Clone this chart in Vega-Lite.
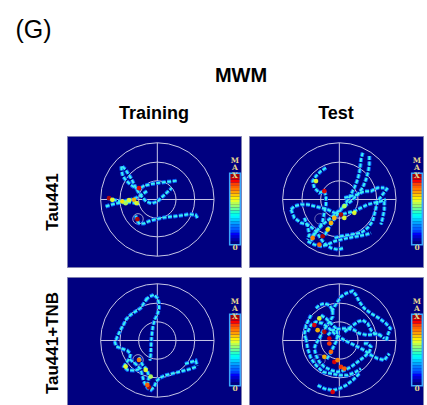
{
"$schema":"https://vega.github.io/schema/vega-lite/v6.json",
"padding":{"left":15,"top":17,"right":0,"bottom":0},
"background":"white",
"config":{"font":"Liberation Sans","view":{"fill":"#000080","stroke":"#8080b0","strokeWidth":1},"title":{"color":"black"}},
"title":{"text":"(G)","anchor":"start","fontSize":25,"fontWeight":"normal","dx":-27,"offset":23},
"datasets":{
"cross":[{"x":-170,"y":0,"x2":170,"y2":0},{"x":0,"y":-170,"x2":0,"y2":170}],
"rings":[{"r":170},{"r":112},{"r":56}],
"platform":[{"x":-58,"y":-58}],
"bar":[{"lo":0,"hi":0.04},{"lo":0.04,"hi":0.08},{"lo":0.08,"hi":0.12},{"lo":0.12,"hi":0.16},{"lo":0.16,"hi":0.2},{"lo":0.2,"hi":0.24},{"lo":0.24,"hi":0.28},{"lo":0.28,"hi":0.32},{"lo":0.32,"hi":0.36},{"lo":0.36,"hi":0.4},{"lo":0.4,"hi":0.44},{"lo":0.44,"hi":0.48},{"lo":0.48,"hi":0.52},{"lo":0.52,"hi":0.56},{"lo":0.56,"hi":0.6},{"lo":0.6,"hi":0.64},{"lo":0.64,"hi":0.68},{"lo":0.68,"hi":0.72},{"lo":0.72,"hi":0.76},{"lo":0.76,"hi":0.8},{"lo":0.8,"hi":0.84},{"lo":0.84,"hi":0.88},{"lo":0.88,"hi":0.92},{"lo":0.92,"hi":0.96},{"lo":0.96,"hi":1}],
"tracks":[
{"p":1,"s":"1a","x":-108,"y":99},{"p":1,"s":"1a","x":-107,"y":84},{"p":1,"s":"1a","x":-103,"y":69},{"p":1,"s":"1a","x":-93,"y":56},{"p":1,"s":"1a","x":-80,"y":44},{"p":1,"s":"1a","x":-65,"y":34},{"p":1,"s":"1a","x":-53,"y":32},{"p":1,"s":"1a","x":-40,"y":41},{"p":1,"s":"1a","x":-20,"y":46},{"p":1,"s":"1a","x":5,"y":50},{"p":1,"s":"1a","x":30,"y":53},{"p":1,"s":"1a","x":50,"y":55},{"p":1,"s":"1a","x":61,"y":57},
{"p":1,"s":"1b","x":-105,"y":99},{"p":1,"s":"1b","x":-95,"y":89},{"p":1,"s":"1b","x":-87,"y":76},{"p":1,"s":"1b","x":-79,"y":64},{"p":1,"s":"1b","x":-73,"y":52},{"p":1,"s":"1b","x":-65,"y":36},{"p":1,"s":"1b","x":-55,"y":19},{"p":1,"s":"1b","x":-45,"y":6},{"p":1,"s":"1b","x":-33,"y":-6},{"p":1,"s":"1b","x":-17,"y":-12},{"p":1,"s":"1b","x":0,"y":-6},{"p":1,"s":"1b","x":15,"y":8},{"p":1,"s":"1b","x":30,"y":22},{"p":1,"s":"1b","x":43,"y":34},
{"p":1,"s":"1c","x":-150,"y":4},{"p":1,"s":"1c","x":-130,"y":-1},{"p":1,"s":"1c","x":-110,"y":-6},{"p":1,"s":"1c","x":-95,"y":-4},{"p":1,"s":"1c","x":-80,"y":-1},{"p":1,"s":"1c","x":-65,"y":4},{"p":1,"s":"1c","x":-55,"y":9},{"p":1,"s":"1c","x":-40,"y":19},{"p":1,"s":"1c","x":-30,"y":26},
{"p":1,"s":"1d","x":-155,"y":-21},{"p":1,"s":"1d","x":-140,"y":-16},{"p":1,"s":"1d","x":-120,"y":-11},{"p":1,"s":"1d","x":-100,"y":-8},{"p":1,"s":"1d","x":-80,"y":-8},{"p":1,"s":"1d","x":-65,"y":-11},{"p":1,"s":"1d","x":-55,"y":-14},
{"p":1,"s":"1e","x":-65,"y":-48},{"p":1,"s":"1e","x":-62,"y":-61},{"p":1,"s":"1e","x":-55,"y":-71},{"p":1,"s":"1e","x":-40,"y":-72},{"p":1,"s":"1e","x":-25,"y":-65},{"p":1,"s":"1e","x":-5,"y":-59},{"p":1,"s":"1e","x":20,"y":-54},{"p":1,"s":"1e","x":45,"y":-51},{"p":1,"s":"1e","x":70,"y":-48},{"p":1,"s":"1e","x":95,"y":-44},{"p":1,"s":"1e","x":115,"y":-46},{"p":1,"s":"1e","x":121,"y":-56},
{"p":2,"s":"2a","x":70,"y":140},{"p":2,"s":"2a","x":65,"y":120},{"p":2,"s":"2a","x":63,"y":100},{"p":2,"s":"2a","x":60,"y":80},{"p":2,"s":"2a","x":55,"y":60},{"p":2,"s":"2a","x":45,"y":35},{"p":2,"s":"2a","x":35,"y":15},{"p":2,"s":"2a","x":20,"y":-10},{"p":2,"s":"2a","x":5,"y":-30},{"p":2,"s":"2a","x":-10,"y":-50},{"p":2,"s":"2a","x":-23,"y":-70},{"p":2,"s":"2a","x":-35,"y":-90},{"p":2,"s":"2a","x":-45,"y":-110},
{"p":2,"s":"2b","x":90,"y":130},{"p":2,"s":"2b","x":90,"y":105},{"p":2,"s":"2b","x":87,"y":85},{"p":2,"s":"2b","x":80,"y":60},{"p":2,"s":"2b","x":70,"y":35},{"p":2,"s":"2b","x":55,"y":15},{"p":2,"s":"2b","x":35,"y":-5},{"p":2,"s":"2b","x":15,"y":-20},{"p":2,"s":"2b","x":-5,"y":-37},{"p":2,"s":"2b","x":-25,"y":-55},{"p":2,"s":"2b","x":-50,"y":-75},{"p":2,"s":"2b","x":-70,"y":-95},{"p":2,"s":"2b","x":-85,"y":-115},
{"p":2,"s":"2c","x":-40,"y":95},{"p":2,"s":"2c","x":-55,"y":85},{"p":2,"s":"2c","x":-70,"y":70},{"p":2,"s":"2c","x":-80,"y":55},{"p":2,"s":"2c","x":-75,"y":35},{"p":2,"s":"2c","x":-60,"y":20},{"p":2,"s":"2c","x":-45,"y":25},{"p":2,"s":"2c","x":-40,"y":10},{"p":2,"s":"2c","x":-40,"y":-15},{"p":2,"s":"2c","x":-45,"y":-40},{"p":2,"s":"2c","x":-50,"y":-65},{"p":2,"s":"2c","x":-60,"y":-85},{"p":2,"s":"2c","x":-75,"y":-105},{"p":2,"s":"2c","x":-85,"y":-125},
{"p":2,"s":"2d","x":-145,"y":-30},{"p":2,"s":"2d","x":-135,"y":-20},{"p":2,"s":"2d","x":-115,"y":-15},{"p":2,"s":"2d","x":-95,"y":-15},{"p":2,"s":"2d","x":-75,"y":-20},{"p":2,"s":"2d","x":-55,"y":-25},{"p":2,"s":"2d","x":-35,"y":-30},{"p":2,"s":"2d","x":-15,"y":-40},{"p":2,"s":"2d","x":5,"y":-45},{"p":2,"s":"2d","x":25,"y":-40},{"p":2,"s":"2d","x":45,"y":-35},{"p":2,"s":"2d","x":65,"y":-25},{"p":2,"s":"2d","x":85,"y":-15},{"p":2,"s":"2d","x":105,"y":-10},{"p":2,"s":"2d","x":125,"y":-5},{"p":2,"s":"2d","x":140,"y":0},
{"p":2,"s":"2e","x":-145,"y":-30},{"p":2,"s":"2e","x":-135,"y":-55},{"p":2,"s":"2e","x":-115,"y":-70},{"p":2,"s":"2e","x":-95,"y":-75},{"p":2,"s":"2e","x":-75,"y":-90},{"p":2,"s":"2e","x":-60,"y":-110},{"p":2,"s":"2e","x":-50,"y":-125},{"p":2,"s":"2e","x":-40,"y":-135},{"p":2,"s":"2e","x":-25,"y":-145},{"p":2,"s":"2e","x":-5,"y":-150},{"p":2,"s":"2e","x":15,"y":-145},
{"p":2,"s":"2f","x":145,"y":35},{"p":2,"s":"2f","x":130,"y":15},{"p":2,"s":"2f","x":115,"y":-5},{"p":2,"s":"2f","x":110,"y":-25},{"p":2,"s":"2f","x":105,"y":-45},{"p":2,"s":"2f","x":100,"y":-65},{"p":2,"s":"2f","x":85,"y":-85},{"p":2,"s":"2f","x":65,"y":-100},{"p":2,"s":"2f","x":35,"y":-105},{"p":2,"s":"2f","x":5,"y":-110},{"p":2,"s":"2f","x":-15,"y":-115},
{"p":2,"s":"2g","x":135,"y":-5},{"p":2,"s":"2g","x":135,"y":-30},{"p":2,"s":"2g","x":130,"y":-55},{"p":2,"s":"2g","x":125,"y":-75},
{"p":2,"s":"2h","x":15,"y":5},{"p":2,"s":"2h","x":35,"y":10},{"p":2,"s":"2h","x":55,"y":15},{"p":2,"s":"2h","x":75,"y":25},{"p":2,"s":"2h","x":95,"y":25},{"p":2,"s":"2h","x":115,"y":35},{"p":2,"s":"2h","x":135,"y":35},
{"p":2,"s":"2i","x":-95,"y":-125},{"p":2,"s":"2i","x":-75,"y":-135},{"p":2,"s":"2i","x":-55,"y":-140},{"p":2,"s":"2i","x":-35,"y":-135},{"p":2,"s":"2i","x":-15,"y":-125},{"p":2,"s":"2i","x":5,"y":-120},{"p":2,"s":"2i","x":25,"y":-115},{"p":2,"s":"2i","x":55,"y":-110},{"p":2,"s":"2i","x":80,"y":-105},{"p":2,"s":"2i","x":95,"y":-100},
{"p":2,"s":"2j","x":-105,"y":-55},{"p":2,"s":"2j","x":-95,"y":-80},{"p":2,"s":"2j","x":-90,"y":-105},{"p":2,"s":"2j","x":-95,"y":-120},
{"p":3,"s":"3a","x":-30,"y":127},{"p":3,"s":"3a","x":-40,"y":112},{"p":3,"s":"3a","x":-50,"y":97},{"p":3,"s":"3a","x":-65,"y":87},{"p":3,"s":"3a","x":-80,"y":77},{"p":3,"s":"3a","x":-93,"y":64},{"p":3,"s":"3a","x":-100,"y":50},{"p":3,"s":"3a","x":-110,"y":32},{"p":3,"s":"3a","x":-120,"y":12},{"p":3,"s":"3a","x":-127,"y":-6},{"p":3,"s":"3a","x":-123,"y":-18},{"p":3,"s":"3a","x":-107,"y":-24},{"p":3,"s":"3a","x":-90,"y":-30},{"p":3,"s":"3a","x":-80,"y":-40},{"p":3,"s":"3a","x":-83,"y":-53},{"p":3,"s":"3a","x":-93,"y":-66},{"p":3,"s":"3a","x":-100,"y":-78},{"p":3,"s":"3a","x":-90,"y":-88},{"p":3,"s":"3a","x":-70,"y":-90},{"p":3,"s":"3a","x":-55,"y":-86},
{"p":3,"s":"3b","x":-35,"y":122},{"p":3,"s":"3b","x":-22,"y":132},{"p":3,"s":"3b","x":-10,"y":137},{"p":3,"s":"3b","x":0,"y":127},{"p":3,"s":"3b","x":5,"y":112},{"p":3,"s":"3b","x":5,"y":95},{"p":3,"s":"3b","x":0,"y":77},{"p":3,"s":"3b","x":-7,"y":64},{"p":3,"s":"3b","x":-13,"y":44},{"p":3,"s":"3b","x":-16,"y":22},{"p":3,"s":"3b","x":-18,"y":0},{"p":3,"s":"3b","x":-19,"y":-22},{"p":3,"s":"3b","x":-20,"y":-44},{"p":3,"s":"3b","x":-22,"y":-60},
{"p":3,"s":"3c","x":-83,"y":-56},{"p":3,"s":"3c","x":-65,"y":-70},{"p":3,"s":"3c","x":-50,"y":-86},{"p":3,"s":"3c","x":-45,"y":-106},{"p":3,"s":"3c","x":-39,"y":-126},{"p":3,"s":"3c","x":-29,"y":-142},{"p":3,"s":"3c","x":-19,"y":-148},{"p":3,"s":"3c","x":-9,"y":-138},{"p":3,"s":"3c","x":-3,"y":-122},{"p":3,"s":"3c","x":7,"y":-112},{"p":3,"s":"3c","x":25,"y":-104},{"p":3,"s":"3c","x":45,"y":-99},{"p":3,"s":"3c","x":65,"y":-94},{"p":3,"s":"3c","x":85,"y":-89},{"p":3,"s":"3c","x":103,"y":-84},{"p":3,"s":"3c","x":117,"y":-78},
{"p":3,"s":"3d","x":-55,"y":-50},{"p":3,"s":"3d","x":-45,"y":-72},{"p":3,"s":"3d","x":-31,"y":-88},{"p":3,"s":"3d","x":-25,"y":-108},{"p":3,"s":"3d","x":-29,"y":-128},
{"p":3,"s":"3e","x":83,"y":-70},{"p":3,"s":"3e","x":99,"y":-65},{"p":3,"s":"3e","x":115,"y":-60},{"p":3,"s":"3e","x":120,"y":-76},
{"p":4,"s":"4a","x":-23,"y":86},{"p":4,"s":"4a","x":-15,"y":101},{"p":4,"s":"4a","x":-5,"y":116},{"p":4,"s":"4a","x":5,"y":131},{"p":4,"s":"4a","x":20,"y":141},{"p":4,"s":"4a","x":40,"y":148},{"p":4,"s":"4a","x":50,"y":136},{"p":4,"s":"4a","x":60,"y":116},{"p":4,"s":"4a","x":75,"y":96},{"p":4,"s":"4a","x":95,"y":81},{"p":4,"s":"4a","x":120,"y":66},{"p":4,"s":"4a","x":140,"y":51},{"p":4,"s":"4a","x":153,"y":36},{"p":4,"s":"4a","x":145,"y":16},{"p":4,"s":"4a","x":140,"y":-4},
{"p":4,"s":"4b","x":-70,"y":96},{"p":4,"s":"4b","x":-60,"y":106},{"p":4,"s":"4b","x":-45,"y":111},{"p":4,"s":"4b","x":-30,"y":106},{"p":4,"s":"4b","x":-20,"y":91},{"p":4,"s":"4b","x":-20,"y":71},{"p":4,"s":"4b","x":-30,"y":56},{"p":4,"s":"4b","x":-40,"y":41},{"p":4,"s":"4b","x":-50,"y":26},{"p":4,"s":"4b","x":-60,"y":6},{"p":4,"s":"4b","x":-70,"y":-9},{"p":4,"s":"4b","x":-75,"y":-24},{"p":4,"s":"4b","x":-70,"y":-44},{"p":4,"s":"4b","x":-60,"y":-64},{"p":4,"s":"4b","x":-45,"y":-79},{"p":4,"s":"4b","x":-25,"y":-89},{"p":4,"s":"4b","x":-5,"y":-94},{"p":4,"s":"4b","x":15,"y":-89},{"p":4,"s":"4b","x":35,"y":-79},{"p":4,"s":"4b","x":55,"y":-64},{"p":4,"s":"4b","x":75,"y":-49},{"p":4,"s":"4b","x":90,"y":-34},{"p":4,"s":"4b","x":95,"y":-19},{"p":4,"s":"4b","x":85,"y":-9},{"p":4,"s":"4b","x":70,"y":-9},
{"p":4,"s":"4c","x":-95,"y":26},{"p":4,"s":"4c","x":-85,"y":46},{"p":4,"s":"4c","x":-70,"y":56},{"p":4,"s":"4c","x":-50,"y":51},{"p":4,"s":"4c","x":-30,"y":36},{"p":4,"s":"4c","x":-15,"y":21},{"p":4,"s":"4c","x":0,"y":11},{"p":4,"s":"4c","x":15,"y":1},{"p":4,"s":"4c","x":35,"y":-9},{"p":4,"s":"4c","x":55,"y":-19},{"p":4,"s":"4c","x":75,"y":-29},{"p":4,"s":"4c","x":95,"y":-44},{"p":4,"s":"4c","x":115,"y":-54},{"p":4,"s":"4c","x":135,"y":-59},{"p":4,"s":"4c","x":150,"y":-39},
{"p":4,"s":"4d","x":-100,"y":6},{"p":4,"s":"4d","x":-95,"y":-24},{"p":4,"s":"4d","x":-85,"y":-54},{"p":4,"s":"4d","x":-70,"y":-74},{"p":4,"s":"4d","x":-50,"y":-94},{"p":4,"s":"4d","x":-25,"y":-99},{"p":4,"s":"4d","x":0,"y":-104},{"p":4,"s":"4d","x":25,"y":-104},{"p":4,"s":"4d","x":50,"y":-94},{"p":4,"s":"4d","x":65,"y":-84},
{"p":4,"s":"4e","x":-65,"y":-134},{"p":4,"s":"4e","x":-45,"y":-144},{"p":4,"s":"4e","x":-20,"y":-149},{"p":4,"s":"4e","x":0,"y":-144},{"p":4,"s":"4e","x":20,"y":-134},{"p":4,"s":"4e","x":40,"y":-119},{"p":4,"s":"4e","x":60,"y":-99},
{"p":4,"s":"4f","x":15,"y":26},{"p":4,"s":"4f","x":35,"y":41},{"p":4,"s":"4f","x":55,"y":56},{"p":4,"s":"4f","x":70,"y":61},{"p":4,"s":"4f","x":85,"y":51},{"p":4,"s":"4f","x":95,"y":31},{"p":4,"s":"4f","x":105,"y":21},{"p":4,"s":"4f","x":125,"y":16},
{"p":4,"s":"4g","x":-35,"y":16},{"p":4,"s":"4g","x":-20,"y":31},{"p":4,"s":"4g","x":5,"y":36},{"p":4,"s":"4g","x":25,"y":36},{"p":4,"s":"4g","x":45,"y":31},{"p":4,"s":"4g","x":60,"y":21},{"p":4,"s":"4g","x":85,"y":16},{"p":4,"s":"4g","x":115,"y":21},{"p":4,"s":"4g","x":135,"y":6},
{"p":4,"s":"4h","x":-55,"y":76},{"p":4,"s":"4h","x":-40,"y":66},{"p":4,"s":"4h","x":-25,"y":51},{"p":4,"s":"4h","x":-10,"y":36},{"p":4,"s":"4h","x":-5,"y":16},{"p":4,"s":"4h","x":-10,"y":-4},{"p":4,"s":"4h","x":-20,"y":-24},{"p":4,"s":"4h","x":-30,"y":-44},{"p":4,"s":"4h","x":-40,"y":-59},
{"p":4,"s":"4i","x":-85,"y":76},{"p":4,"s":"4i","x":-100,"y":46},{"p":4,"s":"4i","x":-105,"y":16},{"p":4,"s":"4i","x":-100,"y":6}
],
"hot":[
{"p":1,"x":-145,"y":4,"v":0.95},{"p":1,"x":-55,"y":34,"v":0.9},{"p":1,"x":-60,"y":-59,"v":0.95},{"p":1,"x":-105,"y":-6,"v":0.65},{"p":1,"x":-85,"y":-2,"v":0.6},{"p":1,"x":-70,"y":-1,"v":0.7},{"p":1,"x":-95,"y":-11,"v":0.55},{"p":1,"x":-62,"y":-11,"v":0.6},{"p":1,"x":-135,"y":-1,"v":0.6},
{"p":2,"x":5,"y":-45,"v":0.95},{"p":2,"x":-45,"y":25,"v":0.9},{"p":2,"x":-50,"y":-110,"v":0.95},{"p":2,"x":-60,"y":-135,"v":0.8},{"p":2,"x":-25,"y":-70,"v":0.7},{"p":2,"x":15,"y":-55,"v":0.6},{"p":2,"x":-80,"y":-115,"v":0.75},{"p":2,"x":45,"y":-40,"v":0.6},{"p":2,"x":-70,"y":55,"v":0.6},{"p":2,"x":-35,"y":-90,"v":0.65},{"p":2,"x":-15,"y":-55,"v":0.7},{"p":2,"x":15,"y":-20,"v":0.55},
{"p":3,"x":-25,"y":-140,"v":0.95},{"p":3,"x":-30,"y":-133,"v":0.8},{"p":3,"x":-55,"y":-58,"v":0.75},{"p":3,"x":-95,"y":-78,"v":0.6},{"p":3,"x":-35,"y":-88,"v":0.6},{"p":3,"x":-20,"y":-108,"v":0.55},
{"p":4,"x":-75,"y":46,"v":0.9},{"p":4,"x":-45,"y":26,"v":0.95},{"p":4,"x":-30,"y":6,"v":0.9},{"p":4,"x":-30,"y":-9,"v":0.85},{"p":4,"x":-15,"y":-64,"v":0.9},{"p":4,"x":5,"y":-79,"v":0.85},{"p":4,"x":15,"y":-84,"v":0.8},{"p":4,"x":-25,"y":-34,"v":0.8},{"p":4,"x":-45,"y":-49,"v":0.7},{"p":4,"x":-20,"y":-154,"v":0.9},{"p":4,"x":-65,"y":31,"v":0.7},{"p":4,"x":-5,"y":-59,"v":0.75},{"p":4,"x":-60,"y":66,"v":0.6}
]
},
"vconcat":[{
"title":{"text":"MWM","fontSize":20,"fontWeight":"bold","anchor":"middle","offset":19,"dx":8},
"spacing":8,
"vconcat":[
{"spacing":6,"hconcat":[
{"width":174,"height":131,"title":{"text":"Training","fontSize":18,"fontWeight":"bold","anchor":"middle","frame":"group","offset":13},
"resolve":{"scale":{"y":"independent"}},
"layer":[
{"data":{"name":"cross"},"mark":{"type":"rule","color":"#c6c6e6","strokeWidth":1},"encoding":{"x":{"field":"x","type":"quantitative","scale":{"domain":[-271,251]},"axis":null},"x2":{"field":"x2"},"y":{"field":"y","type":"quantitative","scale":{"domain":[-202,190]},"axis":{"title":"Tau441","labels":false,"ticks":false,"domain":false,"grid":false,"titleFontSize":17,"titleFontWeight":"bold","titleColor":"black","titlePadding":6}},"y2":{"field":"y2"}}},
{"data":{"name":"rings"},"mark":{"type":"point","shape":"circle","filled":false,"color":"#c6c6e6","strokeWidth":1,"opacity":1},"encoding":{"x":{"datum":0,"type":"quantitative","scale":{"domain":[-271,251]},"axis":null},"y":{"datum":0,"type":"quantitative","scale":{"domain":[-202,190]},"axis":null},"size":{"field":"r","type":"quantitative","scale":{"type":"pow","exponent":2,"domain":[0,170],"range":[0,12860]},"legend":null}}},
{"data":{"name":"platform"},"mark":{"type":"point","shape":"circle","filled":false,"color":"#c6c6e6","strokeWidth":1,"opacity":0.8,"size":110},"encoding":{"x":{"field":"x","type":"quantitative","scale":{"domain":[-271,251]},"axis":null},"y":{"field":"y","type":"quantitative","scale":{"domain":[-202,190]},"axis":null}}},
{"data":{"name":"tracks"},"transform":[{"filter":"datum.p==1"}],"mark":{"type":"line","color":"#0a64ff","strokeWidth":4,"strokeDash":[4,1.5]},"encoding":{"x":{"field":"x","type":"quantitative","scale":{"domain":[-271,251]},"axis":null},"y":{"field":"y","type":"quantitative","scale":{"domain":[-202,190]},"axis":null},"detail":{"field":"s"},"order":{"value":null}}},
{"data":{"name":"tracks"},"transform":[{"filter":"datum.p==1"}],"mark":{"type":"line","color":"#3cf0f0","strokeWidth":2,"strokeDash":[4,1.5]},"encoding":{"x":{"field":"x","type":"quantitative","scale":{"domain":[-271,251]},"axis":null},"y":{"field":"y","type":"quantitative","scale":{"domain":[-202,190]},"axis":null},"detail":{"field":"s"},"order":{"value":null}}},
{"data":{"name":"hot"},"transform":[{"filter":"datum.p==1"}],"mark":{"type":"circle","opacity":0.95,"size":22},"encoding":{"x":{"field":"x","type":"quantitative","scale":{"domain":[-271,251]},"axis":null},"y":{"field":"y","type":"quantitative","scale":{"domain":[-202,190]},"axis":null},"color":{"field":"v","type":"quantitative","scale":{"domain":[0,0.125,0.25,0.375,0.5,0.625,0.75,0.875,1],"range":["#00007f","#0000ff","#0080ff","#00ffff","#80ff80","#ffff00","#ff8000","#ff0000","#800000"]},"legend":null}}},
{"data":{"name":"bar"},"mark":{"type":"rect"},"encoding":{"x":{"datum":218,"type":"quantitative","scale":{"domain":[-271,251]},"axis":null},"x2":{"datum":248},"y":{"field":"lo","type":"quantitative","scale":{"domain":[-0.329,1.543]},"axis":null},"y2":{"field":"hi"},"color":{"field":"lo","type":"quantitative","scale":{"domain":[0,0.125,0.25,0.375,0.5,0.625,0.75,0.875,1],"range":["#00007f","#0000ff","#0080ff","#00ffff","#80ff80","#ffff00","#ff8000","#ff0000","#800000"]},"legend":null}}},
{"data":{"values":[{}]},"mark":{"type":"rect","fillOpacity":0,"stroke":"#3aa6ff","strokeWidth":1.5},"encoding":{"x":{"datum":217,"type":"quantitative","scale":{"domain":[-271,251]},"axis":null},"x2":{"datum":249},"y":{"datum":-0.012,"type":"quantitative","scale":{"domain":[-0.329,1.543]},"axis":null},"y2":{"datum":1.012}}},
{"data":{"values":[{}]},"mark":{"type":"text","text":["M","A","X"],"lineHeight":7.8,"font":"DejaVu Serif","fontWeight":"bold","fontSize":7.5,"color":"#e4d68e","baseline":"middle","align":"center"},"encoding":{"x":{"datum":233,"type":"quantitative","scale":{"domain":[-271,251]},"axis":null},"y":{"datum":1.19,"type":"quantitative","scale":{"domain":[-0.329,1.543]},"axis":null}}},
{"data":{"values":[{}]},"mark":{"type":"text","text":"0","font":"DejaVu Serif","fontWeight":"bold","fontSize":7.5,"color":"#e4d68e","baseline":"middle","align":"center"},"encoding":{"x":{"datum":233,"type":"quantitative","scale":{"domain":[-271,251]},"axis":null},"y":{"datum":-0.057,"type":"quantitative","scale":{"domain":[-0.329,1.543]},"axis":null}}}
]},
{"width":174,"height":131,"title":{"text":"Test","fontSize":18,"fontWeight":"bold","anchor":"middle","frame":"group","offset":13},
"resolve":{"scale":{"y":"independent"}},
"layer":[
{"data":{"name":"cross"},"mark":{"type":"rule","color":"#c6c6e6","strokeWidth":1},"encoding":{"x":{"field":"x","type":"quantitative","scale":{"domain":[-271,251]},"axis":null},"x2":{"field":"x2"},"y":{"field":"y","type":"quantitative","scale":{"domain":[-202,190]},"axis":null},"y2":{"field":"y2"}}},
{"data":{"name":"rings"},"mark":{"type":"point","shape":"circle","filled":false,"color":"#c6c6e6","strokeWidth":1,"opacity":1},"encoding":{"x":{"datum":0,"type":"quantitative","scale":{"domain":[-271,251]},"axis":null},"y":{"datum":0,"type":"quantitative","scale":{"domain":[-202,190]},"axis":null},"size":{"field":"r","type":"quantitative","scale":{"type":"pow","exponent":2,"domain":[0,170],"range":[0,12860]},"legend":null}}},
{"data":{"name":"platform"},"mark":{"type":"point","shape":"circle","filled":false,"color":"#c6c6e6","strokeWidth":1,"opacity":0.5,"size":110},"encoding":{"x":{"field":"x","type":"quantitative","scale":{"domain":[-271,251]},"axis":null},"y":{"field":"y","type":"quantitative","scale":{"domain":[-202,190]},"axis":null}}},
{"data":{"name":"tracks"},"transform":[{"filter":"datum.p==2"}],"mark":{"type":"line","color":"#0a64ff","strokeWidth":4,"strokeDash":[4,1.5]},"encoding":{"x":{"field":"x","type":"quantitative","scale":{"domain":[-271,251]},"axis":null},"y":{"field":"y","type":"quantitative","scale":{"domain":[-202,190]},"axis":null},"detail":{"field":"s"},"order":{"value":null}}},
{"data":{"name":"tracks"},"transform":[{"filter":"datum.p==2"}],"mark":{"type":"line","color":"#3cf0f0","strokeWidth":2,"strokeDash":[4,1.5]},"encoding":{"x":{"field":"x","type":"quantitative","scale":{"domain":[-271,251]},"axis":null},"y":{"field":"y","type":"quantitative","scale":{"domain":[-202,190]},"axis":null},"detail":{"field":"s"},"order":{"value":null}}},
{"data":{"name":"hot"},"transform":[{"filter":"datum.p==2"}],"mark":{"type":"circle","opacity":0.95,"size":22},"encoding":{"x":{"field":"x","type":"quantitative","scale":{"domain":[-271,251]},"axis":null},"y":{"field":"y","type":"quantitative","scale":{"domain":[-202,190]},"axis":null},"color":{"field":"v","type":"quantitative","scale":{"domain":[0,0.125,0.25,0.375,0.5,0.625,0.75,0.875,1],"range":["#00007f","#0000ff","#0080ff","#00ffff","#80ff80","#ffff00","#ff8000","#ff0000","#800000"]},"legend":null}}},
{"data":{"name":"bar"},"mark":{"type":"rect"},"encoding":{"x":{"datum":218,"type":"quantitative","scale":{"domain":[-271,251]},"axis":null},"x2":{"datum":248},"y":{"field":"lo","type":"quantitative","scale":{"domain":[-0.329,1.543]},"axis":null},"y2":{"field":"hi"},"color":{"field":"lo","type":"quantitative","scale":{"domain":[0,0.125,0.25,0.375,0.5,0.625,0.75,0.875,1],"range":["#00007f","#0000ff","#0080ff","#00ffff","#80ff80","#ffff00","#ff8000","#ff0000","#800000"]},"legend":null}}},
{"data":{"values":[{}]},"mark":{"type":"rect","fillOpacity":0,"stroke":"#3aa6ff","strokeWidth":1.5},"encoding":{"x":{"datum":217,"type":"quantitative","scale":{"domain":[-271,251]},"axis":null},"x2":{"datum":249},"y":{"datum":-0.012,"type":"quantitative","scale":{"domain":[-0.329,1.543]},"axis":null},"y2":{"datum":1.012}}},
{"data":{"values":[{}]},"mark":{"type":"text","text":["M","A","X"],"lineHeight":7.8,"font":"DejaVu Serif","fontWeight":"bold","fontSize":7.5,"color":"#e4d68e","baseline":"middle","align":"center"},"encoding":{"x":{"datum":233,"type":"quantitative","scale":{"domain":[-271,251]},"axis":null},"y":{"datum":1.19,"type":"quantitative","scale":{"domain":[-0.329,1.543]},"axis":null}}},
{"data":{"values":[{}]},"mark":{"type":"text","text":"0","font":"DejaVu Serif","fontWeight":"bold","fontSize":7.5,"color":"#e4d68e","baseline":"middle","align":"center"},"encoding":{"x":{"datum":233,"type":"quantitative","scale":{"domain":[-271,251]},"axis":null},"y":{"datum":-0.057,"type":"quantitative","scale":{"domain":[-0.329,1.543]},"axis":null}}}
]}
]},
{"spacing":6,"hconcat":[
{"width":174,"height":131,
"resolve":{"scale":{"y":"independent"}},
"layer":[
{"data":{"name":"cross"},"mark":{"type":"rule","color":"#c6c6e6","strokeWidth":1},"encoding":{"x":{"field":"x","type":"quantitative","scale":{"domain":[-271,251]},"axis":null},"x2":{"field":"x2"},"y":{"field":"y","type":"quantitative","scale":{"domain":[-202,190]},"axis":{"title":"Tau441+TNB","labels":false,"ticks":false,"domain":false,"grid":false,"titleFontSize":17,"titleFontWeight":"bold","titleColor":"black","titlePadding":6}},"y2":{"field":"y2"}}},
{"data":{"name":"rings"},"mark":{"type":"point","shape":"circle","filled":false,"color":"#c6c6e6","strokeWidth":1,"opacity":1},"encoding":{"x":{"datum":0,"type":"quantitative","scale":{"domain":[-271,251]},"axis":null},"y":{"datum":0,"type":"quantitative","scale":{"domain":[-202,190]},"axis":null},"size":{"field":"r","type":"quantitative","scale":{"type":"pow","exponent":2,"domain":[0,170],"range":[0,12860]},"legend":null}}},
{"data":{"name":"platform"},"mark":{"type":"point","shape":"circle","filled":false,"color":"#c6c6e6","strokeWidth":1,"opacity":0.8,"size":110},"encoding":{"x":{"field":"x","type":"quantitative","scale":{"domain":[-271,251]},"axis":null},"y":{"field":"y","type":"quantitative","scale":{"domain":[-202,190]},"axis":null}}},
{"data":{"name":"tracks"},"transform":[{"filter":"datum.p==3"}],"mark":{"type":"line","color":"#0a64ff","strokeWidth":4,"strokeDash":[4,1.5]},"encoding":{"x":{"field":"x","type":"quantitative","scale":{"domain":[-271,251]},"axis":null},"y":{"field":"y","type":"quantitative","scale":{"domain":[-202,190]},"axis":null},"detail":{"field":"s"},"order":{"value":null}}},
{"data":{"name":"tracks"},"transform":[{"filter":"datum.p==3"}],"mark":{"type":"line","color":"#3cf0f0","strokeWidth":2,"strokeDash":[4,1.5]},"encoding":{"x":{"field":"x","type":"quantitative","scale":{"domain":[-271,251]},"axis":null},"y":{"field":"y","type":"quantitative","scale":{"domain":[-202,190]},"axis":null},"detail":{"field":"s"},"order":{"value":null}}},
{"data":{"name":"hot"},"transform":[{"filter":"datum.p==3"}],"mark":{"type":"circle","opacity":0.95,"size":22},"encoding":{"x":{"field":"x","type":"quantitative","scale":{"domain":[-271,251]},"axis":null},"y":{"field":"y","type":"quantitative","scale":{"domain":[-202,190]},"axis":null},"color":{"field":"v","type":"quantitative","scale":{"domain":[0,0.125,0.25,0.375,0.5,0.625,0.75,0.875,1],"range":["#00007f","#0000ff","#0080ff","#00ffff","#80ff80","#ffff00","#ff8000","#ff0000","#800000"]},"legend":null}}},
{"data":{"name":"bar"},"mark":{"type":"rect"},"encoding":{"x":{"datum":218,"type":"quantitative","scale":{"domain":[-271,251]},"axis":null},"x2":{"datum":248},"y":{"field":"lo","type":"quantitative","scale":{"domain":[-0.329,1.543]},"axis":null},"y2":{"field":"hi"},"color":{"field":"lo","type":"quantitative","scale":{"domain":[0,0.125,0.25,0.375,0.5,0.625,0.75,0.875,1],"range":["#00007f","#0000ff","#0080ff","#00ffff","#80ff80","#ffff00","#ff8000","#ff0000","#800000"]},"legend":null}}},
{"data":{"values":[{}]},"mark":{"type":"rect","fillOpacity":0,"stroke":"#3aa6ff","strokeWidth":1.5},"encoding":{"x":{"datum":217,"type":"quantitative","scale":{"domain":[-271,251]},"axis":null},"x2":{"datum":249},"y":{"datum":-0.012,"type":"quantitative","scale":{"domain":[-0.329,1.543]},"axis":null},"y2":{"datum":1.012}}},
{"data":{"values":[{}]},"mark":{"type":"text","text":["M","A","X"],"lineHeight":7.8,"font":"DejaVu Serif","fontWeight":"bold","fontSize":7.5,"color":"#e4d68e","baseline":"middle","align":"center"},"encoding":{"x":{"datum":233,"type":"quantitative","scale":{"domain":[-271,251]},"axis":null},"y":{"datum":1.19,"type":"quantitative","scale":{"domain":[-0.329,1.543]},"axis":null}}},
{"data":{"values":[{}]},"mark":{"type":"text","text":"0","font":"DejaVu Serif","fontWeight":"bold","fontSize":7.5,"color":"#e4d68e","baseline":"middle","align":"center"},"encoding":{"x":{"datum":233,"type":"quantitative","scale":{"domain":[-271,251]},"axis":null},"y":{"datum":-0.057,"type":"quantitative","scale":{"domain":[-0.329,1.543]},"axis":null}}}
]},
{"width":174,"height":131,
"resolve":{"scale":{"y":"independent"}},
"layer":[
{"data":{"name":"cross"},"mark":{"type":"rule","color":"#c6c6e6","strokeWidth":1},"encoding":{"x":{"field":"x","type":"quantitative","scale":{"domain":[-271,251]},"axis":null},"x2":{"field":"x2"},"y":{"field":"y","type":"quantitative","scale":{"domain":[-202,190]},"axis":null},"y2":{"field":"y2"}}},
{"data":{"name":"rings"},"mark":{"type":"point","shape":"circle","filled":false,"color":"#c6c6e6","strokeWidth":1,"opacity":1},"encoding":{"x":{"datum":0,"type":"quantitative","scale":{"domain":[-271,251]},"axis":null},"y":{"datum":0,"type":"quantitative","scale":{"domain":[-202,190]},"axis":null},"size":{"field":"r","type":"quantitative","scale":{"type":"pow","exponent":2,"domain":[0,170],"range":[0,12860]},"legend":null}}},
{"data":{"name":"platform"},"mark":{"type":"point","shape":"circle","filled":false,"color":"#c6c6e6","strokeWidth":1,"opacity":0.5,"size":110},"encoding":{"x":{"field":"x","type":"quantitative","scale":{"domain":[-271,251]},"axis":null},"y":{"field":"y","type":"quantitative","scale":{"domain":[-202,190]},"axis":null}}},
{"data":{"name":"tracks"},"transform":[{"filter":"datum.p==4"}],"mark":{"type":"line","color":"#0a64ff","strokeWidth":4,"strokeDash":[4,1.5]},"encoding":{"x":{"field":"x","type":"quantitative","scale":{"domain":[-271,251]},"axis":null},"y":{"field":"y","type":"quantitative","scale":{"domain":[-202,190]},"axis":null},"detail":{"field":"s"},"order":{"value":null}}},
{"data":{"name":"tracks"},"transform":[{"filter":"datum.p==4"}],"mark":{"type":"line","color":"#3cf0f0","strokeWidth":2,"strokeDash":[4,1.5]},"encoding":{"x":{"field":"x","type":"quantitative","scale":{"domain":[-271,251]},"axis":null},"y":{"field":"y","type":"quantitative","scale":{"domain":[-202,190]},"axis":null},"detail":{"field":"s"},"order":{"value":null}}},
{"data":{"name":"hot"},"transform":[{"filter":"datum.p==4"}],"mark":{"type":"circle","opacity":0.95,"size":22},"encoding":{"x":{"field":"x","type":"quantitative","scale":{"domain":[-271,251]},"axis":null},"y":{"field":"y","type":"quantitative","scale":{"domain":[-202,190]},"axis":null},"color":{"field":"v","type":"quantitative","scale":{"domain":[0,0.125,0.25,0.375,0.5,0.625,0.75,0.875,1],"range":["#00007f","#0000ff","#0080ff","#00ffff","#80ff80","#ffff00","#ff8000","#ff0000","#800000"]},"legend":null}}},
{"data":{"name":"bar"},"mark":{"type":"rect"},"encoding":{"x":{"datum":218,"type":"quantitative","scale":{"domain":[-271,251]},"axis":null},"x2":{"datum":248},"y":{"field":"lo","type":"quantitative","scale":{"domain":[-0.329,1.543]},"axis":null},"y2":{"field":"hi"},"color":{"field":"lo","type":"quantitative","scale":{"domain":[0,0.125,0.25,0.375,0.5,0.625,0.75,0.875,1],"range":["#00007f","#0000ff","#0080ff","#00ffff","#80ff80","#ffff00","#ff8000","#ff0000","#800000"]},"legend":null}}},
{"data":{"values":[{}]},"mark":{"type":"rect","fillOpacity":0,"stroke":"#3aa6ff","strokeWidth":1.5},"encoding":{"x":{"datum":217,"type":"quantitative","scale":{"domain":[-271,251]},"axis":null},"x2":{"datum":249},"y":{"datum":-0.012,"type":"quantitative","scale":{"domain":[-0.329,1.543]},"axis":null},"y2":{"datum":1.012}}},
{"data":{"values":[{}]},"mark":{"type":"text","text":["M","A","X"],"lineHeight":7.8,"font":"DejaVu Serif","fontWeight":"bold","fontSize":7.5,"color":"#e4d68e","baseline":"middle","align":"center"},"encoding":{"x":{"datum":233,"type":"quantitative","scale":{"domain":[-271,251]},"axis":null},"y":{"datum":1.19,"type":"quantitative","scale":{"domain":[-0.329,1.543]},"axis":null}}},
{"data":{"values":[{}]},"mark":{"type":"text","text":"0","font":"DejaVu Serif","fontWeight":"bold","fontSize":7.5,"color":"#e4d68e","baseline":"middle","align":"center"},"encoding":{"x":{"datum":233,"type":"quantitative","scale":{"domain":[-271,251]},"axis":null},"y":{"datum":-0.057,"type":"quantitative","scale":{"domain":[-0.329,1.543]},"axis":null}}}
]}
]}
]}]
}
